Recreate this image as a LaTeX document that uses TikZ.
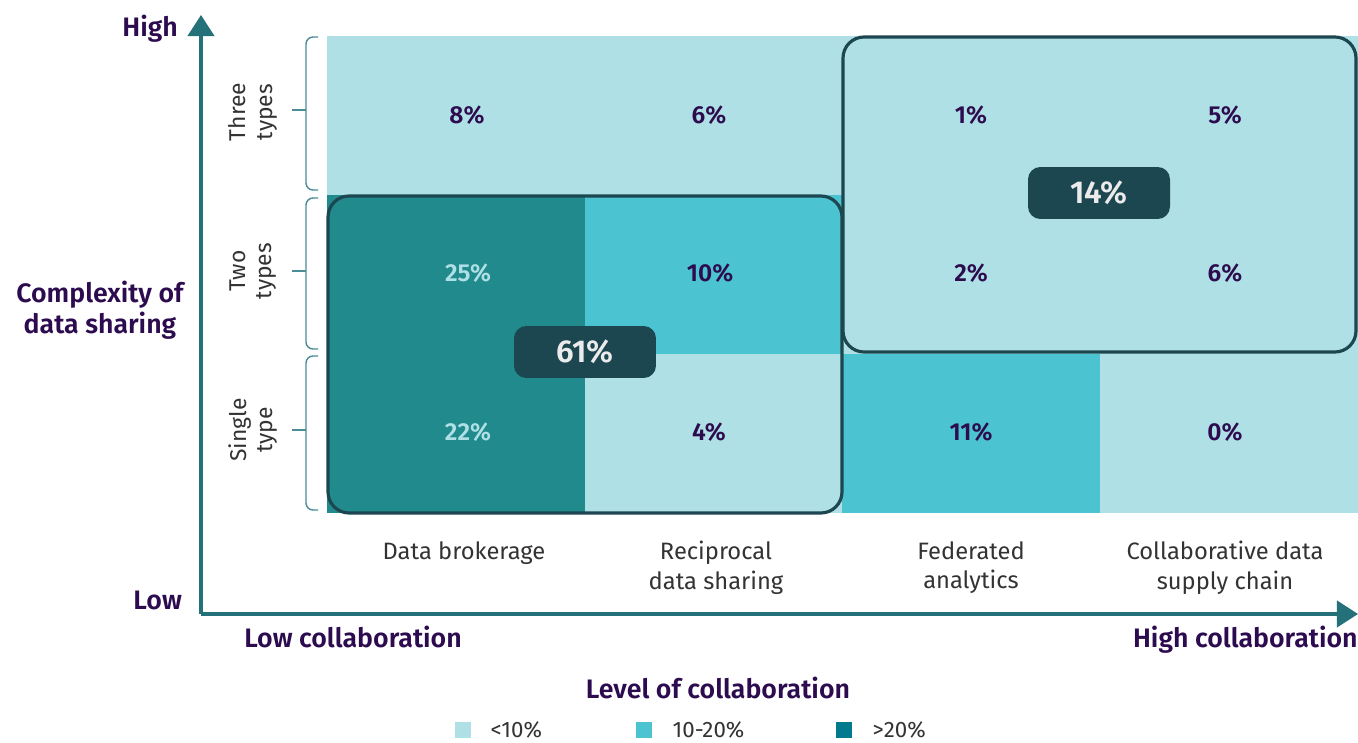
\documentclass[tikz,border=0pt]{standalone}
\usepackage{fontspec}
\setmainfont{Fira Sans}[BoldFont={Fira Sans SemiBold}]
\usetikzlibrary{arrows.meta, positioning}

\definecolor{cellLight}{HTML}{AFE0E5}
\definecolor{cellMid}{HTML}{4CC3D0}
\definecolor{cellDark}{HTML}{218A8D}
\definecolor{legDark}{HTML}{007A8C}
\definecolor{boxEdge}{HTML}{1C4650}
\definecolor{axisTeal}{HTML}{24717A}
\definecolor{braceTeal}{HTML}{4B8C96}
\definecolor{numPurple}{HTML}{2D0B4F}
\definecolor{textGrey}{HTML}{333333}

\begin{document}
\begin{tikzpicture}[x=0.02cm, y=-0.02cm,
        cell/.style={minimum width=5.16cm, minimum height=3.18cm, inner sep=0pt, outer sep=0pt},
        val/.style={text=numPurple, font=\bfseries\fontsize{14}{17}\selectfont},
        group/.style={draw=boxEdge, line width=1.8pt, rounded corners=12pt},
        pill/.style={fill=boxEdge, rounded corners=7pt, minimum width=2.84cm, minimum height=1.04cm,
          text=white!92!black, font=\bfseries\fontsize{18}{20}\selectfont},
        collab/.style={anchor=north, align=center, text=textGrey, font=\fontsize{13.5}{17}\selectfont},
        tier/.style={rotate=90, align=center, text=textGrey, font=\fontsize{13}{15}\selectfont},
        bracket/.style={draw=braceTeal, line width=0.8pt, rounded corners=4pt},
        axis/.style={draw=axisTeal, line width=1.8pt, -{Triangle[length=12pt, width=15pt]}},
        axlabel/.style={text=numPurple, font=\bfseries\fontsize{15.2}{17.5}\selectfont, align=center},
        legbox/.style={minimum size=0.32cm, inner sep=0pt},
        legtext/.style={anchor=west, inner sep=0pt, text=textGrey, font=\fontsize{12.7}{14}\selectfont}]

      \useasboundingbox (0,0) rectangle (1358,743);

      % Cells
      \node[cell, fill=cellLight] (c13) at (456,115.5) {};
      \node[cell, fill=cellLight] (c23) at (714,115.5) {};
      \node[cell, fill=cellLight] (c33) at (971,115.5) {};
      \node[cell, fill=cellLight] (c43) at (1229,115.5) {};
      \node[cell, fill=cellDark] (c12) at (456,274.5) {};
      \node[cell, fill=cellMid] (c22) at (714,274.5) {};
      \node[cell, fill=cellLight] (c32) at (971,274.5) {};
      \node[cell, fill=cellLight] (c42) at (1229,274.5) {};
      \node[cell, fill=cellDark] (c11) at (456,433.5) {};
      \node[cell, fill=cellLight] (c21) at (714,433.5) {};
      \node[cell, fill=cellMid] (c31) at (971,433.5) {};
      \node[cell, fill=cellLight] (c41) at (1229,433.5) {};

      % Values
      \node[val] (v13) at (467,115) {8\%};
      \node[val] (v23) at (709,115) {6\%};
      \node[val] (v33) at (971,115) {1\%};
      \node[val] (v43) at (1225,115) {5\%};
      \node[val, text=cellLight] (v12) at (468,273) {25\%};
      \node[val] (v22) at (710,273) {10\%};
      \node[val] (v32) at (971,273) {2\%};
      \node[val] (v42) at (1225,273) {6\%};
      \node[val, text=cellLight] (v11) at (468,432) {22\%};
      \node[val] (v21) at (709,432) {4\%};
      \node[val] (v31) at (971,432) {11\%};
      \node[val] (v41) at (1225,432) {0\%};

      % Groups
      \draw[group] (328,196) rectangle (842,513);
      \draw[group] (843,37) rectangle (1356,352);
      \node[pill] (sumLow) at (585,352) {61\%};
      \node[pill] (sumHigh) at (1099,193) {14\%};

      % Row brackets
      \draw[bracket] (318,37) -- (306,37) -- (306,190) -- (318,190);
      \draw[bracket] (306,110) -- (292,110);
      \draw[bracket] (318,198) -- (306,198) -- (306,349) -- (318,349);
      \draw[bracket] (306,271) -- (292,271);
      \draw[bracket] (318,356) -- (306,356) -- (306,510) -- (318,510);
      \draw[bracket] (306,430) -- (292,430);
      \node[tier] (three) at (253,112) {Three\\types};
      \node[tier] (two) at (253,271) {Two\\types};
      \node[tier] (single) at (253,430) {Single\\type};

      % Column labels
      \node[collab] (broker) at (464,535) {Data brokerage};
      \node[collab] (recip) at (716,535) {Reciprocal\\data sharing};
      \node[collab] (fed) at (971,535) {Federated\\analytics};
      \node[collab] (supply) at (1225,535) {Collaborative data\\supply chain};

      % Axes
      \coordinate (origin) at (201,614);
      \coordinate (ytop) at (201,15);
      \coordinate (xend) at (1358,614);
      \draw[axis] (origin) -- (ytop);
      \draw[axis] (origin) -- (xend);

      \node[axlabel, anchor=east] (high) at (184,29) {High};
      \node[axlabel, anchor=east] (low) at (188,600) {Low};
      \node[axlabel] (complexity) at (100,310) {Complexity of\\data sharing};
      \node[axlabel] (lowCollab) at (353,637) {Low collaboration};
      \node[axlabel, anchor=east, inner xsep=0pt] (highCollab) at (1358,640) {High collaboration};
      \node[axlabel] (level) at (718,688) {Level of collaboration};

      % Legend
      \node[legbox, fill=cellLight] (leg1) at (463,730) {};
      \node[legbox, fill=cellMid] (leg2) at (644,730) {};
      \node[legbox, fill=legDark] (leg3) at (844,730) {};
      \node[legtext, right=0.38cm of leg1] (legText1) {<10\%};
      \node[legtext, right=0.4cm of leg2] (legText2) {10-20\%};
      \node[legtext, right=0.4cm of leg3] (legText3) {>20\%};

    \end{tikzpicture}
\end{document}
